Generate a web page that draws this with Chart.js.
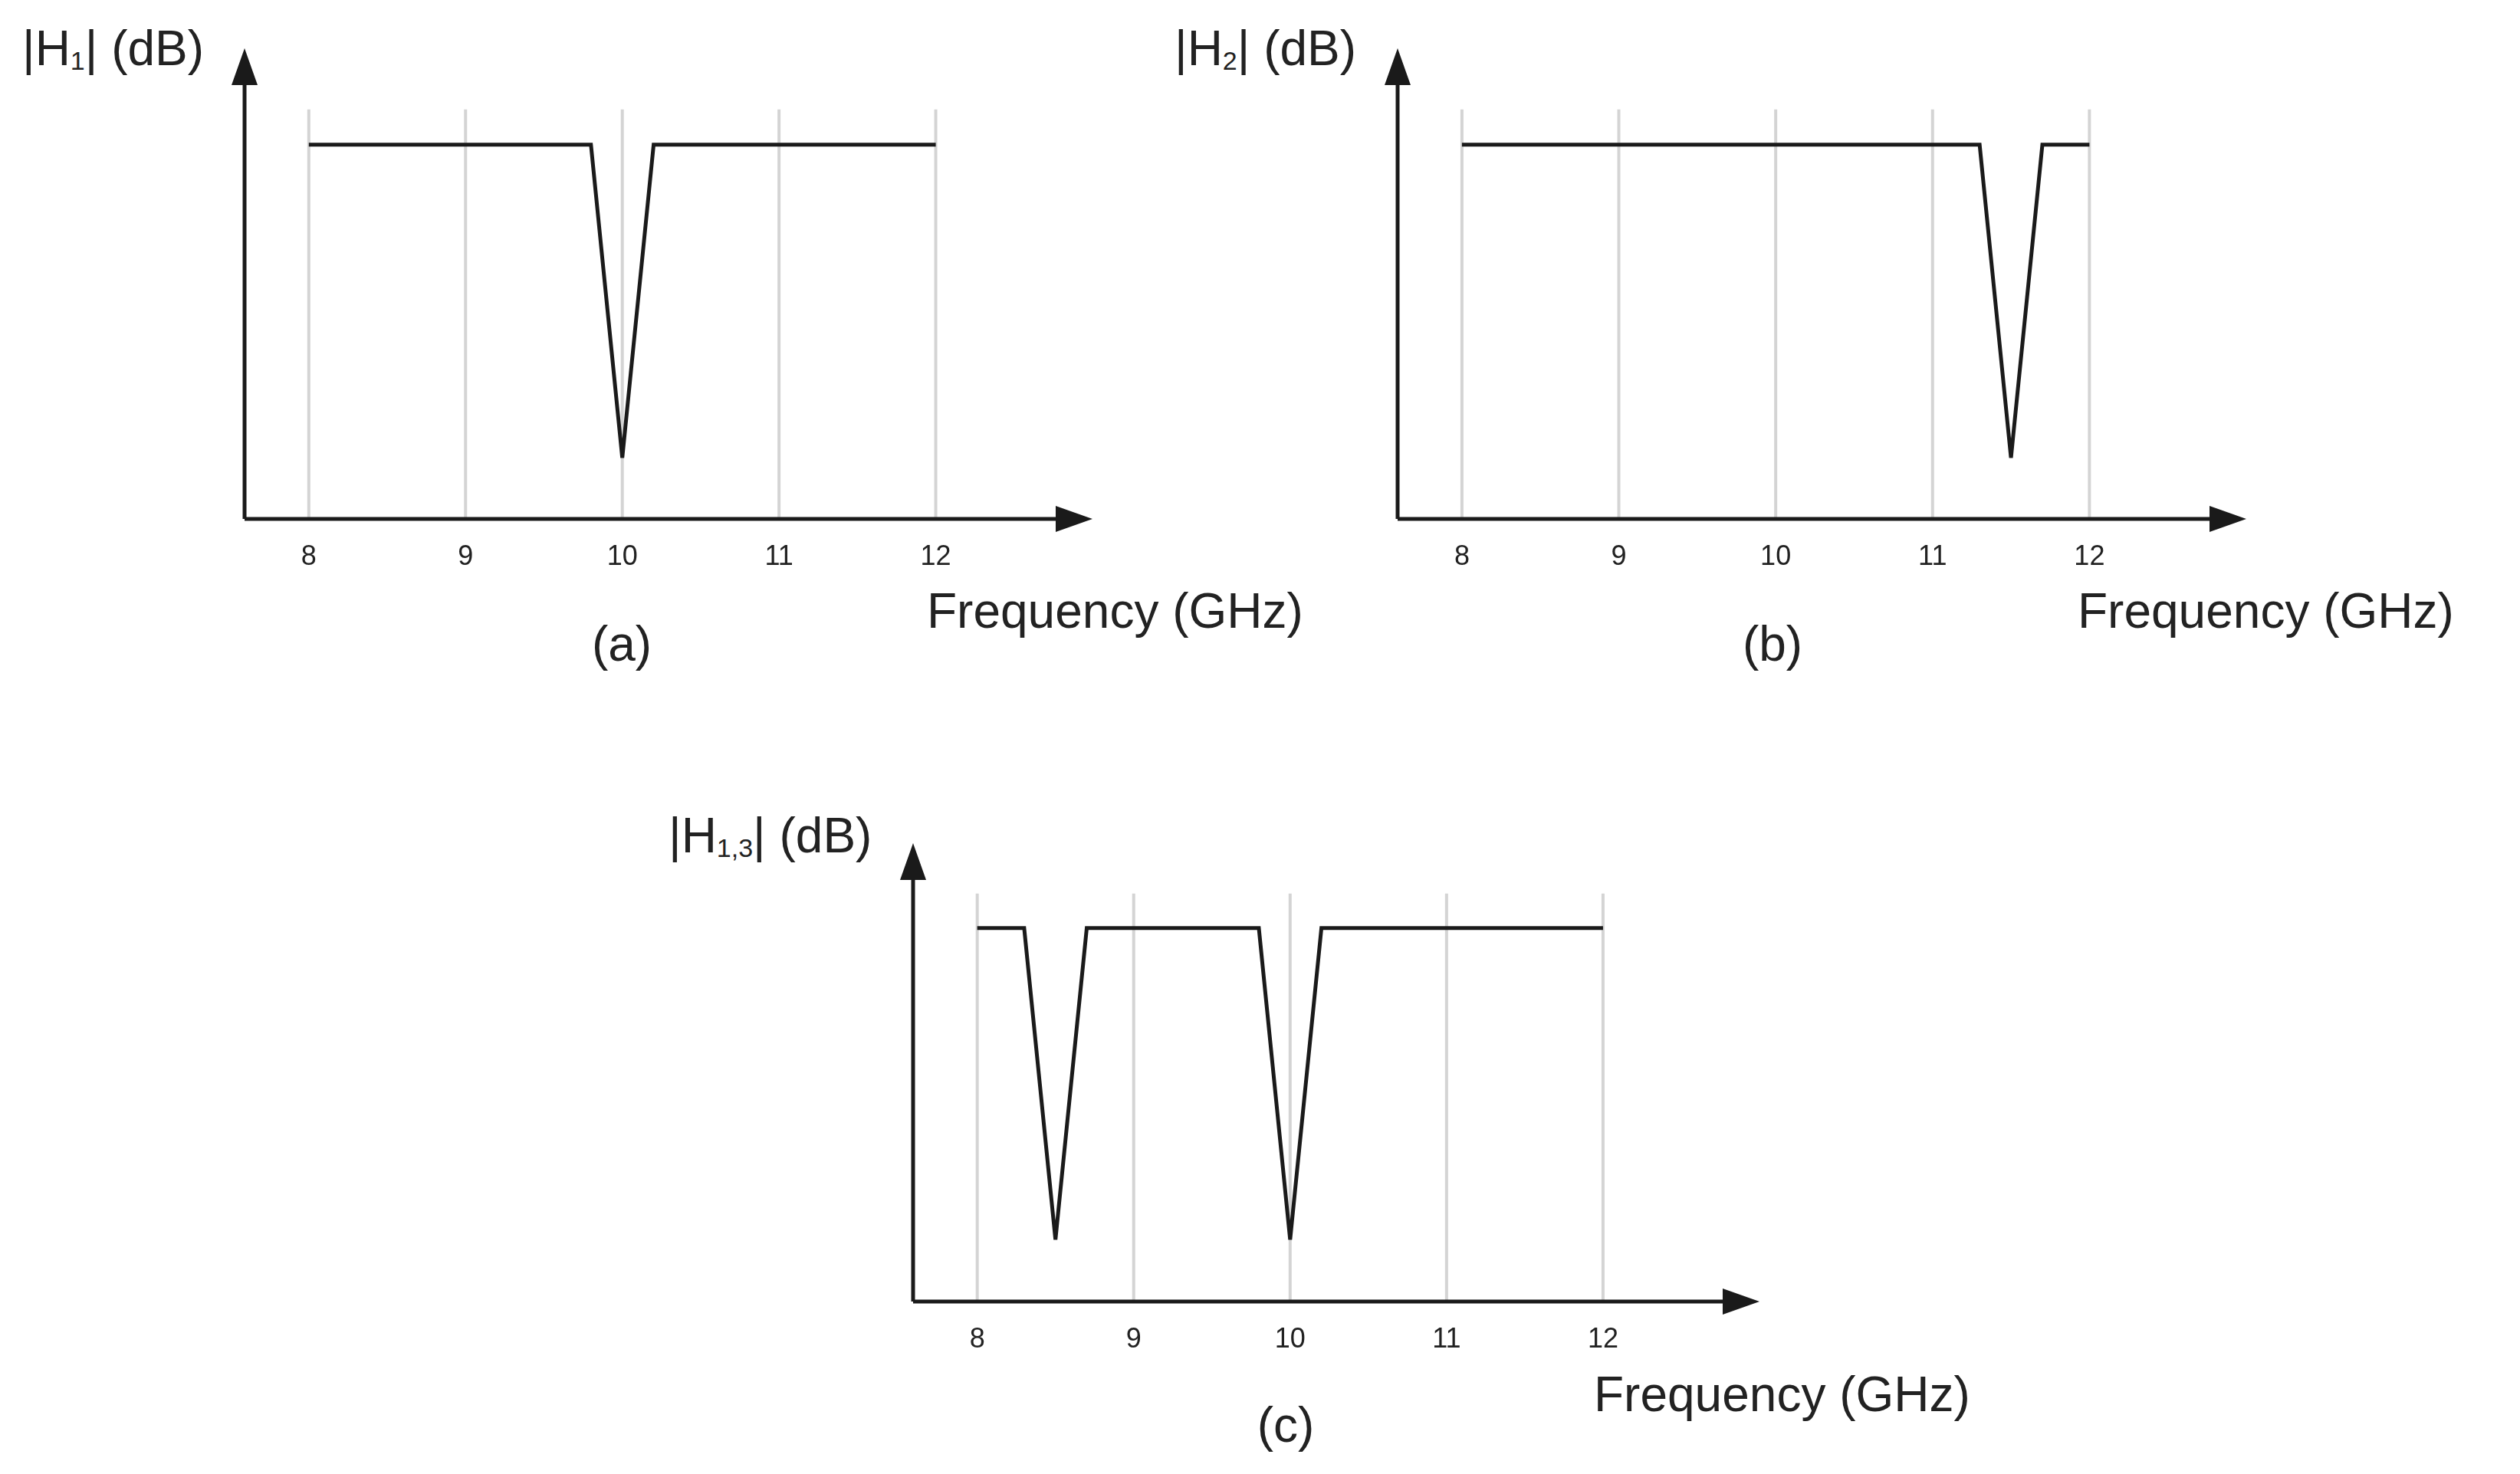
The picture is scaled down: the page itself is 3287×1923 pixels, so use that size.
<!DOCTYPE html>
<html><head><meta charset="utf-8">
<script src="https://cdn.jsdelivr.net/npm/chart.js@4/dist/chart.umd.min.js"></script>
<style>
body{margin:0;background:#fff;width:3287px;height:1923px;position:relative;overflow:hidden;font-family:"Liberation Sans",Arial,sans-serif;color:#222}
canvas{position:absolute}
.t{position:absolute;white-space:nowrap;font-size:64px;line-height:1;transform:translateY(-50%)}
.c{transform:translate(-50%,-50%)}
sub{font-size:34px;vertical-align:-6px}
</style></head><body>
<canvas id="a"></canvas><canvas id="b"></canvas><canvas id="c"></canvas>
<div class="t" style="left:29px;top:63px">|H<sub>1</sub>| (dB)</div>
<div class="t" style="left:1209px;top:797px">Frequency (GHz)</div>
<div class="t c" style="left:811px;top:840px">(a)</div>
<div class="t" style="left:1532px;top:63px">|H<sub>2</sub>| (dB)</div>
<div class="t" style="left:2710px;top:797px">Frequency (GHz)</div>
<div class="t c" style="left:2312px;top:840px">(b)</div>
<div class="t" style="left:872px;top:1090px">|H<sub>1,3</sub>| (dB)</div>
<div class="t" style="left:2079px;top:1819px">Frequency (GHz)</div>
<div class="t c" style="left:1677px;top:1859px">(c)</div>
<script>
const tickLabels = [8, 9, 10, 11, 12];
const freqA = [8, 9.8, 10, 10.2, 12];
const valA  = [7.95, 7.95, 1.3, 7.95, 7.95];
const freqB = [8, 11.3, 11.5, 11.7, 12];
const valB  = [7.95, 7.95, 1.3, 7.95, 7.95];
const freqC = [8, 8.3, 8.5, 8.7, 9.8, 10, 10.2, 12];
const valC  = [8.15, 8.15, 1.35, 8.15, 8.15, 1.35, 8.15, 8.15];

const axesPlugin = {
  id:'axesPlugin',
  beforeDatasetsDraw(chart){
    const {ctx, chartArea:ca, scales:{x,y}} = chart;
    const gTop = chart.options.gridTop;
    ctx.save();
    ctx.strokeStyle='#d4d4d4'; ctx.lineWidth=4;
    tickLabels.forEach(t=>{const px=x.getPixelForValue(t);
      ctx.beginPath();ctx.moveTo(px,ca.bottom);ctx.lineTo(px,y.getPixelForValue(gTop));ctx.stroke();});
    ctx.strokeStyle='#1a1a1a'; ctx.fillStyle='#1a1a1a'; ctx.lineWidth=5;
    ctx.beginPath();ctx.moveTo(ca.left,ca.bottom);ctx.lineTo(ca.right-30,ca.bottom);
    ctx.moveTo(ca.left,ca.bottom);ctx.lineTo(ca.left,ca.top+30);ctx.stroke();
    ctx.beginPath();ctx.moveTo(ca.right,ca.bottom);ctx.lineTo(ca.right-48,ca.bottom-17);ctx.lineTo(ca.right-48,ca.bottom+17);ctx.closePath();ctx.fill();
    ctx.beginPath();ctx.moveTo(ca.left,ca.top);ctx.lineTo(ca.left-17,ca.top+48);ctx.lineTo(ca.left+17,ca.top+48);ctx.closePath();ctx.fill();
    ctx.font='36px "Liberation Sans", Arial, sans-serif';ctx.textAlign='center';ctx.textBaseline='middle';ctx.fillStyle='#222';
    tickLabels.forEach(t=>ctx.fillText(String(t),x.getPixelForValue(t),ca.bottom+50));
    ctx.restore();
  }
};

function make(id,left,top,w,h,fx,vy,gridTop){
  const cv=document.getElementById(id);
  cv.style.left=(left-20)+'px';cv.style.top=(top-20)+'px';
  cv.width=w+60;cv.height=h+100;cv.style.width=(w+60)+'px';cv.style.height=(h+100)+'px';
  new Chart(cv,{type:'line',
    data:{datasets:[{data:fx.map((f,i)=>({x:f,y:vy[i]})),borderColor:'#1a1a1a',borderWidth:5,pointRadius:0,tension:0,fill:false}]},
    options:{responsive:false,animation:false,devicePixelRatio:1,gridTop,
      layout:{padding:{left:20,top:20,right:40,bottom:80}},
      plugins:{legend:{display:false},tooltip:{enabled:false}},
      scales:{x:{type:'linear',min:7.59,max:13.0,display:false},y:{min:0,max:10,display:false}}},
    plugins:[axesPlugin]});
}
make('a',319,63,1106,614,freqA,valA,8.7);
make('b',1823,63,1107,614,freqB,valB,8.7);
make('c',1191,1100,1104,598,freqC,valC,8.9);
</script></body></html>
